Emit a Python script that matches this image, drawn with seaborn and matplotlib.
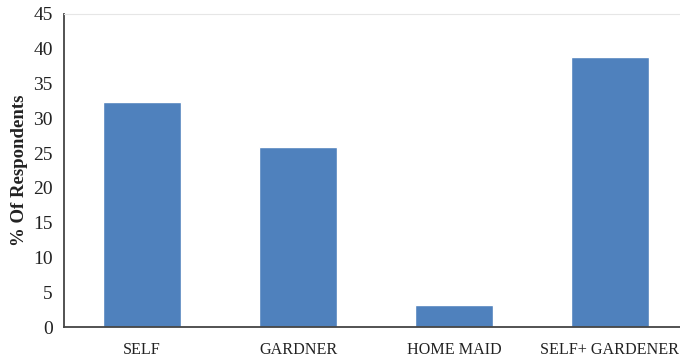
import matplotlib
matplotlib.use("Agg")
import matplotlib.pyplot as plt
import seaborn as sns
import pandas as pd

categories = ["SELF", "GARDNER", "HOME MAID", "SELF+ GARDENER"]
percent = [32.3, 25.9, 3.2, 38.8]
yticks = [0, 5, 10, 15, 20, 25, 30, 35, 40, 45]

sns.set_theme(style="white")
plt.rcParams["font.family"] = ["Liberation Serif", "DejaVu Serif"]

df = pd.DataFrame({"who": categories, "pct": percent})

fig = plt.figure(figsize=(6.8, 3.61), dpi=100)
ax = fig.add_axes([64 / 680, 1 - 327 / 361, 624 / 680, 313 / 361])

sns.barplot(data=df, x="who", y="pct", color="#4F81BD", saturation=1,
            width=0.5, ax=ax)

ax.set_ylim(0, 45)
ax.set_yticks(yticks)
ax.set_yticklabels([str(v) for v in yticks], fontsize=14, color="#222222")
ax.tick_params(axis="y", length=0, pad=8)
ax.tick_params(axis="x", length=0, pad=11, labelsize=11.6, labelcolor="#222222")
ax.set_xlabel("")
ax.set_ylabel("% Of Respondents", fontsize=13.5, fontweight="bold",
              color="#222222", labelpad=4)

for side in ["left", "bottom"]:
    ax.spines[side].set_color("#444444")
    ax.spines[side].set_linewidth(1.3)
ax.spines["top"].set_color("#e6e6e6")
ax.spines["top"].set_linewidth(0.8)
ax.spines["right"].set_visible(False)

fig.savefig("out.png", dpi=100)
